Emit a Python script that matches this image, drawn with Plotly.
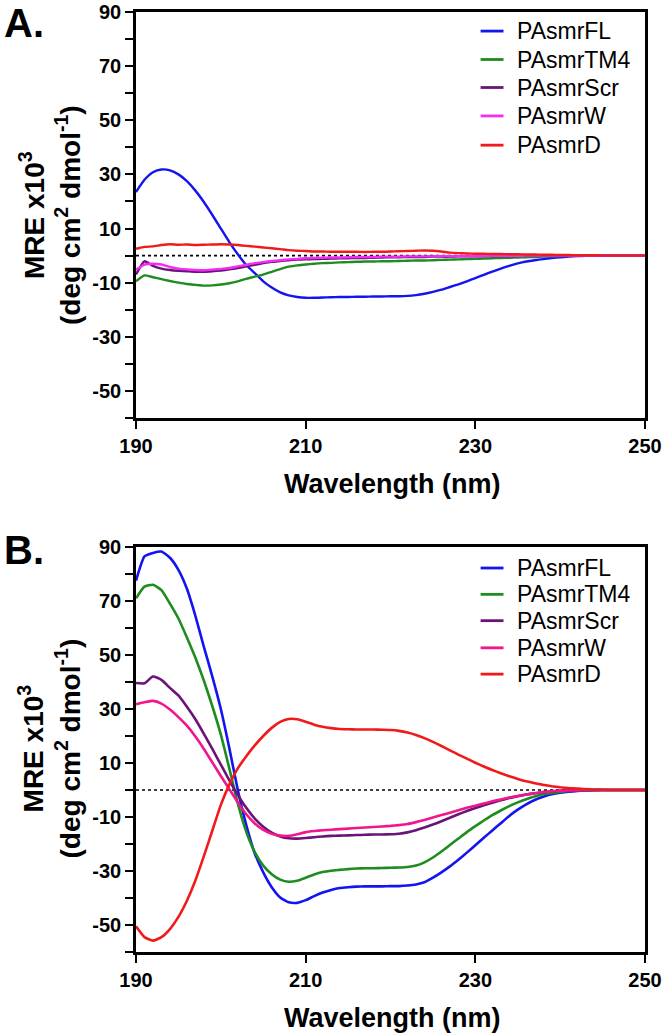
import plotly.graph_objects as go

wavelength = list(range(190, 251))
series_names = ["PAsmrFL", "PAsmrTM4", "PAsmrScr", "PAsmrW", "PAsmrD"]

# Panel A
A_FL = [23.5, 28.0, 30.8, 31.8, 31.5, 30.0, 27.5, 24.0, 19.8, 15.0, 10.0, 5.0, 0.5, -3.5, -6.5, -9.5,
        -11.8, -13.6, -14.7, -15.3, -15.6, -15.6, -15.5, -15.4, -15.3, -15.3, -15.2, -15.2, -15.1, -15.1,
        -15.0, -15.0, -14.9, -14.6, -14.1, -13.4, -12.6, -11.6, -10.6, -9.5, -8.3, -7.1, -5.9, -4.8, -3.8,
        -2.9, -2.2, -1.7, -1.3, -0.9, -0.6, -0.4, -0.2, -0.1, 0, 0, 0, 0, 0, 0, 0]
A_TM4 = [-9.5, -7.3, -8.0, -8.7, -9.4, -10.0, -10.5, -10.8, -11.1, -11.0, -10.7, -10.2, -9.5, -8.6, -7.8,
         -7.0, -6.0, -5.0, -4.1, -3.6, -3.3, -3.0, -2.8, -2.7, -2.5, -2.4, -2.3, -2.2, -2.2, -2.1, -2.1,
         -2.0, -1.9, -1.8, -1.8, -1.7, -1.6, -1.5, -1.4, -1.3, -1.2, -1.1, -1.0, -0.9, -0.8, -0.7, -0.6,
         -0.5, -0.4, -0.3, -0.2, -0.1, 0, 0, 0, 0, 0, 0, 0, 0, 0]
A_Scr = [-7.0, -2.1, -3.8, -4.8, -5.3, -5.6, -5.8, -6.0, -6.0, -5.8, -5.5, -5.1, -4.6, -4.0, -3.4, -2.8,
         -2.3, -2.0, -1.7, -1.5, -1.4, -1.3, -1.2, -1.1, -1.0, -1.0, -0.9, -0.9, -0.8, -0.7, -0.6, -0.6,
         -0.5, -0.5, -0.5, -0.4, -0.4, -0.4, -0.3, -0.3, -0.3, -0.2, -0.2, -0.2, -0.2, -0.1, -0.1, -0.1,
         -0.1, -0.1, 0, 0, 0, 0, 0, 0, 0, 0, 0, 0, 0]
A_W = [-5.2, -3.3, -3.0, -3.3, -4.2, -4.8, -5.1, -5.3, -5.4, -5.2, -4.9, -4.6, -4.0, -3.4, -2.8, -2.4,
       -2.0, -1.7, -1.4, -1.2, -1.0, -0.9, -0.8, -0.7, -0.7, -0.6, -0.5, -0.5, -0.5, -0.4, -0.4, -0.4,
       -0.3, -0.3, -0.3, -0.3, -0.2, -0.2, -0.2, -0.2, -0.2, -0.1, -0.1, -0.1, -0.1, -0.1,
       0, 0, 0, 0, 0, 0, 0, 0, 0, 0, 0, 0, 0, 0, 0]
A_D = [2.5, 3.2, 3.4, 3.9, 4.2, 4.0, 4.1, 3.9, 4.0, 4.1, 4.2, 4.1, 3.9, 3.6, 3.3, 3.0, 2.7, 2.4, 2.0,
       1.8, 1.7, 1.5, 1.5, 1.4, 1.4, 1.4, 1.4, 1.3, 1.4, 1.4, 1.5, 1.6, 1.7, 1.8, 1.9, 1.8, 1.5, 1.1,
       0.9, 0.8, 0.7, 0.7, 0.6, 0.6, 0.5, 0.5, 0.4, 0.4, 0.3, 0.3, 0.2, 0.2, 0.1, 0.1, 0.1,
       0, 0, 0, 0, 0, 0]

# Panel B
B_FL = [77.5, 86.5, 87.8, 88.3, 86.0, 81.5, 74.5, 64.5, 53.0, 42.0, 30.0, 15.5, 0.0, -13.0, -23.5, -30.5,
        -36.0, -39.8, -41.6, -41.8, -40.8, -39.3, -38.0, -37.0, -36.3, -36.0, -35.8, -35.7, -35.7, -35.7,
        -35.6, -35.6, -35.4, -35.0, -34.2, -32.5, -30.5, -28.3, -25.8, -23.2, -20.5, -17.7, -15.0, -12.3,
        -9.6, -7.3, -5.3, -3.7, -2.5, -1.6, -1.0, -0.6, -0.4, -0.2, -0.1, 0, 0, 0, 0, 0, 0]
B_TM4 = [71.0, 75.3, 76.0, 74.0, 69.0, 63.5, 56.5, 49.0, 40.5, 31.0, 20.5, 8.0, -5.0, -15.5, -23.0, -28.0,
         -31.2, -33.2, -34.0, -33.6, -32.5, -31.3, -30.4, -29.9, -29.6, -29.3, -29.1, -29.0, -29.0, -28.9,
         -28.8, -28.7, -28.5, -28.0, -26.8, -25.0, -22.8, -20.4, -18.0, -15.6, -13.4, -11.3, -9.3, -7.6,
         -6.0, -4.6, -3.4, -2.4, -1.6, -1.1, -0.7, -0.4, -0.2, -0.1, 0, 0, 0, 0, 0, 0, 0]
B_Scr = [39.6, 39.5, 42.0, 40.8, 37.8, 35.0, 30.8, 26.2, 20.8, 15.2, 9.4, 3.6, -1.8, -6.6, -10.6, -13.6,
         -15.8, -17.2, -17.9, -18.0, -17.8, -17.5, -17.2, -17.0, -16.9, -16.8, -16.7, -16.6, -16.5, -16.5,
         -16.4, -16.2, -15.7, -14.9, -13.9, -12.8, -11.6, -10.3, -9.0, -7.8, -6.7, -5.7, -4.7, -3.8, -3.0,
         -2.3, -1.7, -1.2, -0.8, -0.5, -0.3, -0.2, -0.1, 0, 0, 0, 0, 0, 0, 0, 0]
B_W = [31.8, 32.5, 33.0, 32.0, 29.8, 27.0, 23.8, 19.8, 15.2, 10.2, 5.2, 0.3, -4.6, -9.0, -12.4, -14.8,
       -16.2, -16.9, -17.0, -16.4, -15.6, -15.2, -14.9, -14.7, -14.5, -14.3, -14.1, -13.9, -13.7, -13.5,
       -13.3, -13.0, -12.6, -11.9, -11.1, -10.2, -9.3, -8.4, -7.5, -6.6, -5.8, -5.0, -4.2, -3.5, -2.8,
       -2.2, -1.7, -1.2, -0.8, -0.5, -0.3, -0.2, -0.1, 0, 0, 0, 0, 0, 0, 0, 0]
B_D = [-50.5, -54.5, -55.8, -54.5, -51.5, -47.0, -41.0, -33.5, -24.5, -15.0, -5.5, 2.0, 8.0, 12.5, 16.5,
       20.0, 23.0, 25.2, 26.3, 26.2, 25.3, 24.2, 23.4, 22.9, 22.6, 22.5, 22.4, 22.4, 22.4, 22.3, 22.2,
       21.9, 21.3, 20.4, 19.2, 17.8, 16.3, 14.7, 13.1, 11.6, 10.1, 8.7, 7.4, 6.2, 5.1, 4.1, 3.2, 2.5,
       1.9, 1.4, 1.0, 0.7, 0.5, 0.3, 0.2, 0.1, 0, 0, 0, 0, 0]

y_tickvals = [-50, -30, -10, 10, 30, 50, 70, 90]
y_ticklabels = ["-50", "-30", "-10", "10", "30", "50", "70", "90"]
y_minor_tickvals = [-60, -40, -20, 0, 20, 40, 60, 80]
x_tickvals = [190, 210, 230, 250]

colors_A = ["#1414f0", "#1e8c1e", "#6a1478", "#f52cf5", "#f01a1a"]
colors_B = ["#1414f0", "#1e8c1e", "#6a1478", "#f0168c", "#f01a1a"]

FONT = "Liberation Sans, Arial, Helvetica, sans-serif"

fig = go.Figure()

for name, vals, col in zip(series_names, [A_FL, A_TM4, A_Scr, A_W, A_D], colors_A):
    fig.add_trace(go.Scatter(x=wavelength, y=vals, mode="lines", name=name, showlegend=False,
                             line=dict(color=col, width=2.4, shape="spline", smoothing=0.5),
                             xaxis="x", yaxis="y"))
for name, vals, col in zip(series_names, [B_FL, B_TM4, B_Scr, B_W, B_D], colors_B):
    fig.add_trace(go.Scatter(x=wavelength, y=vals, mode="lines", name=name, showlegend=False,
                             line=dict(color=col, width=2.6, shape="spline", smoothing=0.5),
                             xaxis="x2", yaxis="y2"))

axis_common = dict(showline=True, linecolor="black", linewidth=2.6, mirror=True,
                   ticks="outside", ticklen=8, tickwidth=2.4, tickcolor="black",
                   showgrid=False, zeroline=False, automargin=False,
                   tickfont=dict(family=FONT, size=20, color="black", weight="bold"))
y_minor = dict(tickvals=y_minor_tickvals, ticks="outside", ticklen=8, tickwidth=2.4,
               tickcolor="black", showgrid=False)

fig.update_layout(
    width=666, height=1036, autosize=False,
    margin=dict(l=136, r=21, t=12, b=84, autoexpand=False),
    paper_bgcolor="white", plot_bgcolor="white",
    font=dict(family=FONT, color="black"),
    xaxis=dict(domain=[0, 1], range=[190, 250], tickvals=x_tickvals, anchor="y", **axis_common),
    yaxis=dict(domain=[0.5681, 1], range=[-60, 90], tickvals=y_tickvals, ticktext=y_ticklabels,
               minor=y_minor, anchor="x", **axis_common),
    xaxis2=dict(domain=[0, 1], range=[190, 250], tickvals=x_tickvals, anchor="y2", **axis_common),
    yaxis2=dict(domain=[0, 0.4309], range=[-60, 90], tickvals=y_tickvals, ticktext=y_ticklabels,
                minor=y_minor, anchor="x2", **axis_common),
    showlegend=False,
)

# zero reference lines
for xr, yr in [("x", "y"), ("x2", "y2")]:
    fig.add_shape(type="line", xref=xr, yref=yr, x0=190, x1=250, y0=0, y1=0,
                  line=dict(color="black", width=1.6, dash="dot"), layer="below")

# legends (drawn as line samples + labels, positioned in axis-domain coordinates)
legend_rows_A = [0.953, 0.883, 0.814, 0.744, 0.672]   # centre of each entry, fraction of panel height
legend_rows_B = [0.948, 0.883, 0.818, 0.751, 0.686]
for rows, cols, xr, yr in [(legend_rows_A, colors_A, "x domain", "y domain"),
                           (legend_rows_B, colors_B, "x2 domain", "y2 domain")]:
    for name, col, yc in zip(series_names, cols, rows):
        fig.add_shape(type="line", xref=xr, yref=yr, x0=0.677, x1=0.722, y0=yc, y1=yc,
                      line=dict(color=col, width=2.8))
        fig.add_annotation(text=name, xref=xr, yref=yr, x=0.745, y=yc, xanchor="left",
                           yanchor="middle", showarrow=False,
                           font=dict(family=FONT, size=23, color="black"))

ytitle = "MRE x10<sup>3</sup><br>(deg cm<sup>2</sup> dmol<sup>-1</sup>)"
for yc in [0.784, 0.2165]:
    fig.add_annotation(text=ytitle, xref="paper", yref="paper", x=-0.169, y=yc,
                       xanchor="center", yanchor="middle", textangle=-90, showarrow=False,
                       font=dict(family=FONT, size=28, color="black", weight="bold"))
for yc in [0.498, -0.070]:
    fig.add_annotation(text="Wavelength (nm)", xref="paper", yref="paper", x=0.503, y=yc,
                       xanchor="center", yanchor="middle", showarrow=False,
                       font=dict(family=FONT, size=27, color="black", weight="bold"))
for lab, yc in [("A.", 0.988), ("B.", 0.4277)]:
    fig.add_annotation(text=lab, xref="paper", yref="paper", x=-0.22, y=yc,
                       xanchor="center", yanchor="middle", showarrow=False,
                       font=dict(family=FONT, size=40, color="black", weight="bold"))

fig.write_html("out.html", config={"responsive": False, "displayModeBar": False},
               post_script="document.body.style.margin='0px';document.body.style.padding='0px';")
